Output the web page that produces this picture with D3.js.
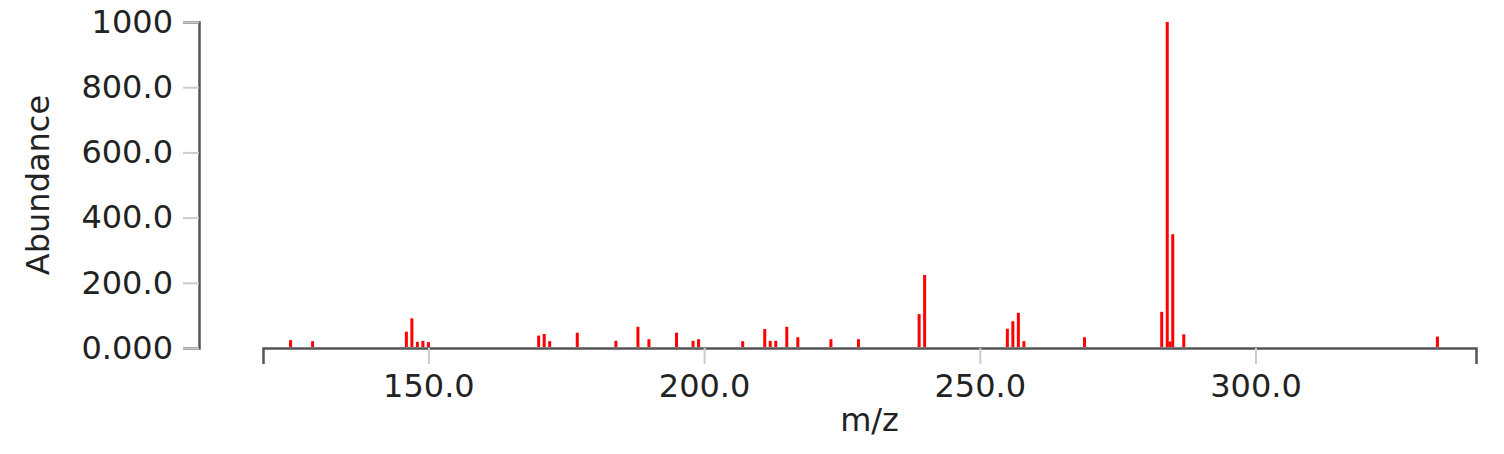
<!DOCTYPE html>
<html>
<head>
<meta charset="utf-8">
<script src="https://cdn.jsdelivr.net/npm/d3@7"></script>
<style>
  body { margin: 0; background: #fff; }
  text { font-family: "DejaVu Sans", Verdana, sans-serif; fill: #222; }
</style>
</head>
<body>
<svg></svg>
<script>
// peaks
var mzValues = [125, 129, 146, 147, 148, 149, 150, 170, 171, 172, 177, 184, 188, 190,
                195, 198, 199, 207, 211, 212, 213, 215, 217, 223, 228, 239, 240, 255,
                256, 257, 258, 269, 283, 284, 284.5, 285, 287, 333];
var abundances = [24, 21, 50, 91, 19, 22, 18, 38, 43, 21, 47, 22, 65, 27,
                  47, 22, 27, 21, 58, 22, 22, 65, 33, 27, 27, 104, 224, 59,
                  82, 108, 21, 33, 111, 1000, 20, 349, 42, 35];
var xTicks = [150, 200, 250, 300];
var yTicks = [0, 200, 400, 600, 800, 1000];

var width = 1504,
    height = 454;

var svg = d3.select('svg')
    .attr('width', width)
    .attr('height', height);

var x = d3.scaleLinear().domain([120, 340]).range([263, 1476]);
var y = d3.scaleLinear().domain([0, 1000]).range([348, 22]);

var fmt = d3.format('.4r');

var xAxis = svg.append('g')
    .attr('transform', 'translate(0,348)')
    .call(d3.axisBottom(x).tickValues(xTicks).tickFormat(fmt).tickSize(16).tickPadding(10));

var yAxis = svg.append('g')
    .attr('transform', 'translate(199,0)')
    .call(d3.axisLeft(y).tickValues(yTicks).tickFormat(fmt).tickSize(16).tickPadding(10));

[xAxis, yAxis].forEach(function(g) {
  g.selectAll('.tick line').attr('stroke', '#ccc').attr('stroke-width', 2);
  g.select('.domain').attr('stroke', '#555').attr('stroke-width', 2.5);
  g.selectAll('text').attr('font-size', 32).attr('fill', '#222')
      .attr('font-family', '"DejaVu Sans", Verdana, sans-serif');
});

var peaks = mzValues.map(function(d, i) { return {mz: d, val: abundances[i]}; });

svg.selectAll('.peak')
    .data(peaks)
    .enter().append('rect')
    .attr('class', 'peak')
    .attr('x', function(d) { return x(d.mz) - 1.5; })
    .attr('y', function(d) { return y(d.val); })
    .attr('width', 3)
    .attr('height', function(d) { return y(0) - 1 - y(d.val); })
    .attr('fill', '#ff0000');

svg.append('text')
    .attr('x', (263 + 1476) / 2)
    .attr('y', 431)
    .attr('text-anchor', 'middle')
    .attr('font-size', 32)
    .text('m/z');

svg.append('text')
    .attr('transform', 'translate(49,' + (22 + 348) / 2 + ') rotate(-90)')
    .attr('text-anchor', 'middle')
    .attr('font-size', 32)
    .text('Abundance');
</script>
</body>
</html>
